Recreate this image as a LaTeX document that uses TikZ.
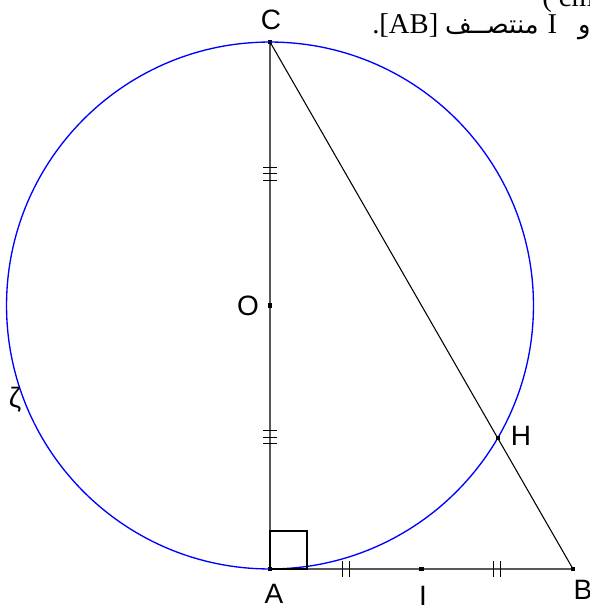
\documentclass[tikz,border=0pt]{standalone}
\usepackage{fontspec}
\setmainfont{Liberation Serif}
\setsansfont{Liberation Sans}
\newfontfamily\arabicfont[Script=Arabic,Scale=0.9]{DejaVu Sans}
\TeXXeTstate=1
\usetikzlibrary{calc}
\definecolor{circleColor}{HTML}{0000FF}

\begin{document}
\begin{tikzpicture}[
		x=0.75pt, y=-0.75pt,
		dot/.style={rectangle, fill=black, inner sep=0pt, minimum size=3.2pt},
		ptlbl/.style={font=\sffamily\fontsize{21}{25}\selectfont, inner sep=0pt},
		seg/.style={draw=black, line width=0.8pt},
		tickmark/.style={draw=black, line width=0.8pt},
		circ/.style={draw=circleColor, line width=1pt},
		txtline/.style={anchor=base west, inner sep=0pt, font=\fontsize{21.5}{25}\selectfont}
		]
		\useasboundingbox (0,0) rectangle (589,606);

		% Points
		\node[dot] (C) at (270,42) {};
		\node[dot] (O) at (270,305.5) {};
		\node[dot] (A) at (270,569) {};
		\node[dot] (B) at (573,569) {};
		\node[dot] (I) at ($(A)!0.5!(B)$) {};
		\coordinate (Hc) at ($(C)!(A)!(B)$);

		% Circle of diameter [AC]
		\draw[circ] (O.center) circle (197.6pt);

		% Triangle and right angle
		\draw[seg] (C.center) -- (A.center) -- (B.center) -- (C.center);
		\draw[seg] (A.center) rectangle +(37,-38);
		\node[dot] (H) at (Hc) {};

		% Equal-length marks
		\foreach \d in {-6.5,0,6.5} {
			\draw[tickmark] ($(C)!0.5!(O)+(-7,\d)$) -- ++(14,0);
			\draw[tickmark] ($(O)!0.5!(A)+(-7,\d)$) -- ++(14,0);
		}
		\foreach \d in {-3.6,3.6} {
			\draw[tickmark] ($(A)!0.5!(I)+(\d,-7.7)$) -- ++(0,15.4);
			\draw[tickmark] ($(I)!0.5!(B)+(\d,-7.7)$) -- ++(0,15.4);
		}

		% Labels
		\node[ptlbl] (lblC) at (271,20) {C};
		\node[ptlbl] (lblO) at (248,306) {O};
		\node[ptlbl] (lblH) at (521,436) {H};
		\node[ptlbl] (lblA) at (274,594) {A};
		\node[ptlbl] (lblI) at (423,596) {I};
		\node[ptlbl] (lblB) at (583,590) {B};
		\node[ptlbl] (lblZ) at (15,400) {ζ};

		% Text of the exercise
		\node[txtline] (unit) at (542,7) {( cm};
		\node[txtline] (txt) at (372,33.5)
			{\beginR\hbox{\arabicfont و}\hspace{15.75pt}\hbox{I}\hspace{6.75pt}\hbox{\arabicfont منتصــف}\hspace{5pt}\hbox{[AB]}.\endR};
	\end{tikzpicture}
\end{document}
